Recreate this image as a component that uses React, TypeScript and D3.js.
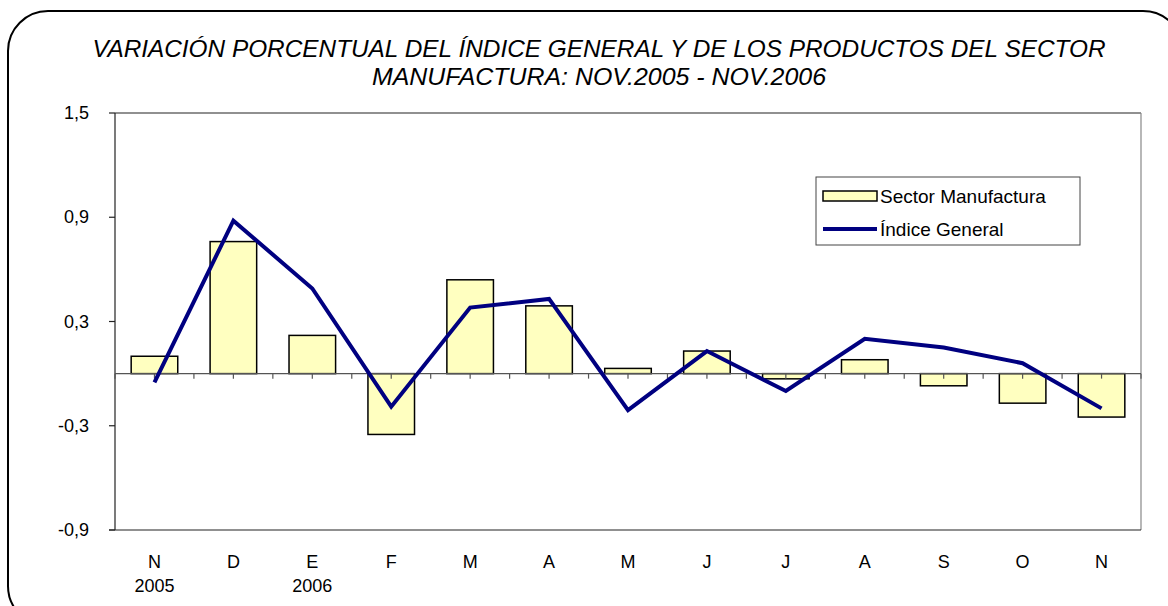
import React from "react";
import * as d3 from "d3";

const months = ["N", "D", "E", "F", "M", "A", "M", "J", "J", "A", "S", "O", "N"];
const years = ["2005", "", "2006", "", "", "", "", "", "", "", "", "", ""];
const manufactura = [0.1, 0.76, 0.22, -0.35, 0.54, 0.39, 0.03, 0.13, -0.03, 0.08, -0.07, -0.17, -0.25];
const indiceGeneral = [-0.05, 0.88, 0.49, -0.19, 0.38, 0.43, -0.21, 0.13, -0.1, 0.2, 0.15, 0.06, -0.2];
const yTicks = [1.5, 0.9, 0.3, -0.3, -0.9];
const titleLines = [
  "VARIACIÓN PORCENTUAL DEL ÍNDICE GENERAL Y DE LOS PRODUCTOS DEL SECTOR",
  "MANUFACTURA: NOV.2005 - NOV.2006",
];

export default function App() {
  const W = 1168, H = 606;
  const left = 115, right = 1141, top = 113, bottom = 530;
  const idx = months.map((_, i) => String(i));
  const x = d3.scaleBand<string>().domain(idx).range([left, right]).paddingInner(0.41).paddingOuter(0.205);
  const xb = d3.scaleBand<string>().domain(idx).range([left, right]);
  const y = d3.scaleLinear().domain([-0.9, 1.5]).range([bottom, top]);
  const cx = (i: number) => (xb(String(i)) as number) + xb.bandwidth() / 2;
  const line = d3.line<number>().x((_, i) => cx(i)).y((d) => y(d));
  const fmt = (v: number) => v.toFixed(1).replace(".", ",");
  const font = "'Liberation Sans', Arial, sans-serif";
  const tickXs: number[] = [];
  for (let i = 0; i <= months.length; i++) {
    tickXs.push(left + i * xb.bandwidth());
    if (i < months.length) tickXs.push(cx(i));
  }
  return (
    <svg width={W} height={H} style={{ position: "absolute", left: 0, top: 0 }} fontFamily={font}>
      <rect x={0} y={0} width={W} height={H} fill="#fff" />
      <rect x={8} y={11} width={1175} height={615} rx={40} ry={40} fill="none" stroke="#000" strokeWidth={2} />
      {titleLines.map((t, i) => (
        <text key={i} x={599} y={57 + i * 28} textAnchor="middle" fontStyle="italic" fontSize={24}
          fontFamily="'Liberation Sans Narrow', 'Arial Narrow', 'Liberation Sans', sans-serif"
          textLength={i === 0 ? 1013 : 454} lengthAdjust="spacingAndGlyphs">{t}</text>
      ))}
      {/* plot frame */}
      <line x1={left} x2={right} y1={top} y2={top} stroke="#222" strokeWidth={1.2} />
      <line x1={right} x2={right} y1={top} y2={bottom} stroke="#888" strokeWidth={1.2} />
      <line x1={left - 6} x2={right} y1={bottom} y2={bottom} stroke="#222" strokeWidth={1.2} />
      <line x1={left} x2={left} y1={top} y2={bottom} stroke="#222" strokeWidth={1.2} />
      {yTicks.map((t) => (
        <g key={t}>
          <line x1={left - 6} x2={left} y1={y(t)} y2={y(t)} stroke="#222" strokeWidth={1.2} />
          <text x={89} y={y(t) + 6} textAnchor="end" fontSize={18}>{fmt(t)}</text>
        </g>
      ))}
      {/* bars */}
      {manufactura.map((v, i) => (
        <rect key={i} x={x(String(i))} width={x.bandwidth()} y={Math.min(y(v), y(0))}
          height={Math.abs(y(v) - y(0))} fill="#FFFFC0" stroke="#000" strokeWidth={1.5} />
      ))}
      {/* zero axis */}
      <line x1={left} x2={right} y1={y(0)} y2={y(0)} stroke="#555" strokeWidth={1.2} />
      {tickXs.map((tx, i) => (
        <line key={i} x1={tx} x2={tx} y1={y(0)} y2={y(0) + 5} stroke="#555" strokeWidth={1.2} />
      ))}
      <path d={line(indiceGeneral) || ""} fill="none" stroke="#000080" strokeWidth={4} strokeLinejoin="miter" />
      {months.map((m, i) => (
        <g key={i}>
          <text x={cx(i)} y={568} textAnchor="middle" fontSize={18}>{m}</text>
          {years[i] && <text x={cx(i)} y={592} textAnchor="middle" fontSize={18}>{years[i]}</text>}
        </g>
      ))}
      {/* legend */}
      <rect x={816} y={177} width={264} height={68} fill="#fff" stroke="#444" strokeWidth={1} />
      <rect x={823} y={191} width={54} height={10} fill="#FFFFC0" stroke="#000" strokeWidth={1.5} />
      <text x={880} y={203} fontSize={19}>Sector Manufactura</text>
      <line x1={823} x2={877} y1={229} y2={229} stroke="#000080" strokeWidth={4} />
      <text x={880} y={236} fontSize={19}>Índice General</text>
    </svg>
  );
}
